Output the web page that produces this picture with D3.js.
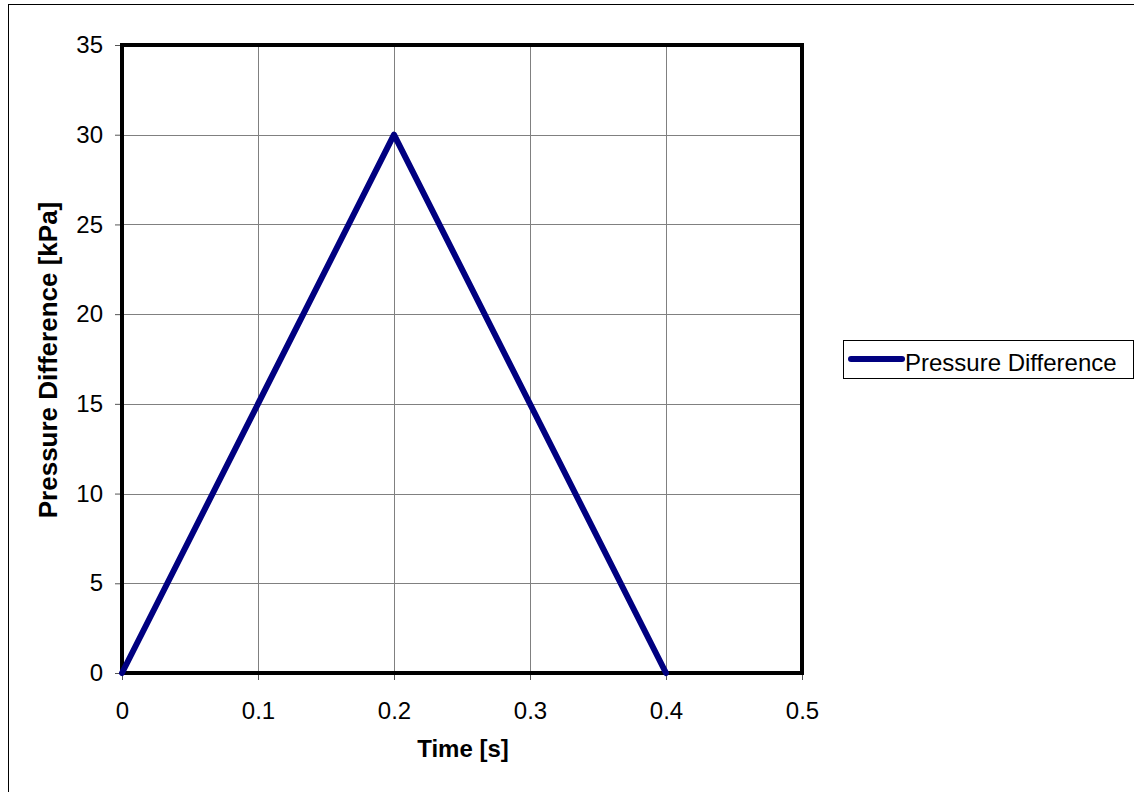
<!DOCTYPE html>
<html>
<head>
<meta charset="utf-8">
<script src="https://cdn.jsdelivr.net/npm/d3@7"></script>
<style>
  body { margin: 0; background: #fff; }
  svg { display: block; font-family: "Liberation Sans", Arial, sans-serif; }
</style>
</head>
<body>
<svg id="chart" width="1134" height="792"></svg>
<script>
// data
var time = [0, 0.2, 0.4];
var pressure = [0, 30, 0];
var xTicks = [0, 0.1, 0.2, 0.3, 0.4, 0.5];
var yTicks = [0, 5, 10, 15, 20, 25, 30, 35];
var seriesName = "Pressure Difference";

var margin = { top: 45, left: 122 };
var width = 680, height = 628;

var svg = d3.select("#chart");

// outer chart border
svg.append("rect")
  .attr("x", 8.5).attr("y", 4.5)
  .attr("width", 1140).attr("height", 800)
  .attr("fill", "#fff").attr("stroke", "#000").attr("stroke-width", 1);

var g = svg.append("g").attr("transform", `translate(${margin.left}, ${margin.top})`);

var xScale = d3.scaleLinear().domain([0, 0.5]).range([0, width]);
var yScale = d3.scaleLinear().domain([0, 35]).range([height, 0]);

// grid
g.append("g")
  .selectAll("line")
  .data(xTicks.slice(1, -1))
  .enter().append("line")
  .attr("x1", d => Math.round(xScale(d)) + 0.5).attr("x2", d => Math.round(xScale(d)) + 0.5)
  .attr("y1", 0).attr("y2", height)
  .attr("stroke", "#808080").attr("stroke-width", 1);
g.append("g")
  .selectAll("line")
  .data(yTicks.slice(1, -1))
  .enter().append("line")
  .attr("x1", 0).attr("x2", width)
  .attr("y1", d => Math.round(yScale(d)) + 0.5).attr("y2", d => Math.round(yScale(d)) + 0.5)
  .attr("stroke", "#808080").attr("stroke-width", 1);

// axes
var xAxis = g.append("g")
  .attr("transform", `translate(0, ${height})`)
  .call(d3.axisBottom(xScale).tickValues(xTicks).tickSize(7).tickPadding(22).tickFormat(d3.format("")));
var yAxis = g.append("g")
  .call(d3.axisLeft(yScale).tickValues(yTicks).tickSize(7).tickPadding(12).tickFormat(d3.format("")));
[xAxis, yAxis].forEach(a => {
  a.select(".domain").remove();
  a.selectAll(".tick line").attr("stroke", "#555");
  a.selectAll(".tick text").attr("font-size", 24).attr("fill", "#000")
    .style("font-family", "Liberation Sans, Arial, sans-serif");
});

// plot frame
g.append("rect")
  .attr("x", 0).attr("y", 0).attr("width", width).attr("height", height)
  .attr("fill", "none").attr("stroke", "#000").attr("stroke-width", 4);

// series
var line = d3.line()
  .x((d, i) => xScale(time[i]))
  .y(d => yScale(d));
g.append("path")
  .attr("d", line(pressure))
  .attr("fill", "none")
  .attr("stroke", "#000080")
  .attr("stroke-width", 6)
  .attr("stroke-linejoin", "round")
  .attr("stroke-linecap", "round");

// axis titles
svg.append("text")
  .attr("x", 463).attr("y", 757)
  .attr("text-anchor", "middle")
  .attr("font-size", 24).attr("font-weight", "bold")
  .text("Time [s]");
svg.append("text")
  .attr("transform", "translate(57, 360) rotate(-90)")
  .attr("text-anchor", "middle")
  .attr("font-size", 26).attr("font-weight", "bold")
  .text("Pressure Difference [kPa]");

// legend
var lg = svg.append("g").attr("transform", "translate(843, 340)");
lg.append("rect")
  .attr("x", 0.5).attr("y", 0.5).attr("width", 290).attr("height", 38)
  .attr("fill", "#fff").attr("stroke", "#000").attr("stroke-width", 1);
lg.append("line")
  .attr("x1", 8).attr("x2", 59).attr("y1", 19).attr("y2", 19)
  .attr("stroke", "#000080").attr("stroke-width", 6).attr("stroke-linecap", "round");
lg.append("text")
  .attr("x", 62).attr("y", 31)
  .attr("font-size", 24)
  .text(seriesName);
</script>
</body>
</html>
